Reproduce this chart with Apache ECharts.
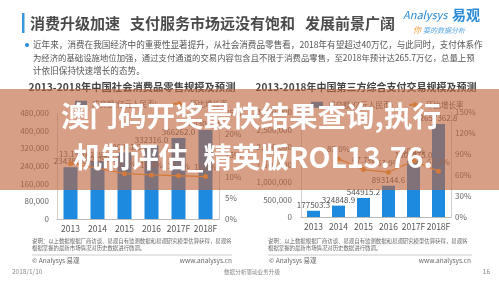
<!DOCTYPE html>
<html><head><meta charset="utf-8">
<script src="https://cdn.jsdelivr.net/npm/echarts@6/dist/echarts.min.js"></script>
<style>html,body{margin:0;padding:0;background:#fff}#c{width:499px;height:281px}</style>
</head><body><div id="c"></div>
<script>
const years = ['2013','2014','2015','2016','2017F','2018F'];
const retailValues = [234380.0, 262394.0, 300931.0, 332316.0, 366262.0, 403000.0];
const retailGrowth = [13.1, 12.0, 10.7, 10.4, 10.2, 10.0];
const payValues = [177503.3, 324848.9, 544915.2, 893144.6, 1608575.0, 2657362.8];
const payGrowth = ['-', 83.0, 67.7, 63.9, 80.1, 65.2];
const retailTicks = {max: 480000, interval: 80000};
const retailRateTicks = {max: 25, interval: 5};
const payTicks = {max: 3000000, interval: 500000};
const payRateTicks = {max: 150, interval: 30};

const FONT = '"Noto Sans CJK SC", sans-serif';
const BLUE = '#1d8ae0';
const ORANGE = '#f2a040';
const chart = echarts.init(document.getElementById('c'), null, {renderer: 'canvas'});

function valAxis(grid, ticks, pct, pos, margin) {
  return {
    type: 'value', gridIndex: grid, position: pos, min: 0, max: ticks.max, interval: ticks.interval,
    axisLine: {show: true, lineStyle: {color: '#cfcfcf'}}, axisTick: {show: false},
    splitLine: {show: false},
    axisLabel: {fontSize: 8, color: '#666', fontFamily: FONT, margin: margin,
      formatter: pct ? '{value}%' : '{value}'}
  };
}
function catAxis(grid) {
  return {
    type: 'category', gridIndex: grid, data: years,
    axisLine: {lineStyle: {color: '#bbb'}}, axisTick: {show: false},
    axisLabel: {fontSize: 8.5, color: '#555', fontFamily: FONT, margin: 6, interval: 0}
  };
}
const barLabel = {show: true, position: 'top', fontSize: 8, color: '#555', fontFamily: FONT, distance: 2,
  formatter: p => Number(p.value).toFixed(1)};
const lineLabel = {show: true, position: 'top', fontSize: 8, color: '#666', fontFamily: FONT, distance: 3,
  formatter: p => Number(p.value).toFixed(1) + '%'};

function txt(text, x, y, size, color, opts) {
  opts = opts || {};
  return {type: 'text', z: opts.z || 50, style: {text: text, x: x, y: y,
    font: (opts.weight || 'normal') + ' ' + (opts.italic ? 'italic ' : '') + size + 'px ' + FONT,
    fill: color, textAlign: opts.align || 'left', textVerticalAlign: 'middle',
    shadowBlur: opts.shadow ? 3 : 0, shadowColor: opts.shadow ? 'rgba(0,0,0,0.2)' : 'transparent'}};
}

const option = {
  animation: false,
  grid: [
    {left: 57, top: 113, width: 162, height: 106},
    {left: 301, top: 112, width: 150, height: 105}
  ],
  legend: [
    {left: 70, top: 95, itemWidth: 12, itemHeight: 6, itemGap: 15,
      textStyle: {fontSize: 7.5, color: '#666', fontFamily: FONT},
      data: [{name: '成交额(亿元人民币)', icon: 'rect'}, '环比增长率']},
    {left: 306, top: 96, itemWidth: 12, itemHeight: 6, itemGap: 15,
      textStyle: {fontSize: 7.5, color: '#666', fontFamily: FONT},
      data: [{name: '成交额(亿元人民币)', icon: 'rect'}, '环比增长率']}
  ],
  xAxis: [catAxis(0), catAxis(1)],
  yAxis: [
    valAxis(0, retailTicks, false, 'left', 8),
    valAxis(0, retailRateTicks, true, 'right', 6),
    valAxis(1, payTicks, false, 'left', 9),
    valAxis(1, payRateTicks, true, 'right', 4)
  ],
  series: [
    {name: '成交额(亿元人民币)', type: 'bar', xAxisIndex: 0, yAxisIndex: 0, data: retailValues,
      barWidth: 14, itemStyle: {color: BLUE}, label: barLabel},
    {name: '环比增长率', type: 'line', xAxisIndex: 0, yAxisIndex: 1, data: retailGrowth,
      symbol: 'circle', symbolSize: 5, itemStyle: {color: ORANGE}, lineStyle: {color: ORANGE, width: 1.3},
      label: lineLabel},
    {name: '成交额(亿元人民币)', type: 'bar', xAxisIndex: 1, yAxisIndex: 2, data: payValues,
      barWidth: 13, itemStyle: {color: BLUE}, label: barLabel},
    {name: '环比增长率', type: 'line', xAxisIndex: 1, yAxisIndex: 3, data: payGrowth,
      symbol: 'circle', symbolSize: 5, itemStyle: {color: ORANGE}, lineStyle: {color: ORANGE, width: 1.3},
      label: lineLabel}
  ],
  graphic: [
    {type: 'rect', shape: {x: 22, y: 13, width: 2.5, height: 20}, style: {fill: '#3a96d8'}},
    txt('消费升级加速', 30, 23, 15, '#4a4a4a', {weight: 'bold'}),
    txt('支付服务市场远没有饱和', 130, 23, 15, '#4a4a4a', {weight: 'bold'}),
    txt('发展前景广阔', 305, 23, 15, '#4a4a4a', {weight: 'bold'}),
    txt('Analysys', 403, 15, 11, '#2a8ad6', {italic: true}),
    txt('易观', 452, 15, 14, '#2a8ad6', {weight: 'bold'}),
    txt('你', 413, 30, 8, '#f0a040', {italic: true}),
    txt('要的数据分析', 423, 30, 7, '#5aa6e0', {italic: true}),
    {type: 'circle', shape: {cx: 27, cy: 45, r: 2}, style: {fill: '#2a8ad6'}},
    txt('近年来，消费在我国经济中的重要性显著提升，从社会消费品零售看，2018年有望超过40万亿，与此同时，支付体系作', 33, 45, 8.6, '#555'),
    txt('为经济的基础设施地位加强，通过支付通道的交易内容包含且不限于消费品零售，至2018年预计达265.7万亿，总量上预', 33, 58, 8.4, '#555'),
    txt('计依旧保持快速增长的态势。', 33, 71, 8.6, '#555'),
    txt('2013-2018年中国社会消费品零售规模及预测', 132, 87, 10.3, '#444', {weight: 'bold', align: 'center'}),
    txt('2013-2018年中国第三方综合支付交易规模及预测', 366, 87, 10, '#444', {weight: 'bold', align: 'center'}),
    txt('说明：以上数据根据厂商访谈、易观自有监测数据和易观研究模型估算获得，易观将', 32, 241, 5.4, '#666'),
    txt('根据掌握的最新市场情况对历史数据进行微调。', 32, 247.5, 5.4, '#666'),
    txt('说明：以上数据根据厂商访谈、易观自有监测数据和易观研究模型估算获得，易观将', 268, 241, 5.4, '#666'),
    txt('根据掌握的最新市场情况对历史数据进行微调。', 268, 247.5, 5.4, '#666'),
    {type: 'line', shape: {x1: 32, y1: 255, x2: 232, y2: 255}, style: {stroke: '#ccc', lineWidth: 1}},
    {type: 'line', shape: {x1: 268, y1: 255, x2: 472, y2: 255}, style: {stroke: '#ccc', lineWidth: 1}},
    txt('© Analysys 易观', 32, 261, 6.5, '#666'),
    txt('www.analysys.cn', 232, 261, 6.5, '#666', {align: 'right'}),
    txt('© Analysys 易观', 269, 261, 6.5, '#666'),
    txt('www.analysys.cn', 471, 261, 6.5, '#666', {align: 'right'}),
    txt('2018/1/10', 12, 272, 6.5, '#888'),
    txt('数据分析驱动业务升级', 252, 272, 5.6, '#888', {align: 'center'}),
    txt('16', 490, 272, 6.5, '#888', {align: 'right'}),
    {type: 'rect', z: 100, shape: {x: 0, y: 89, width: 499, height: 101}, style: {fill: 'rgba(190,100,60,0.62)'}},
    txt('澳门码开奖最快结果查询,执行', 251, 116, 28.5, '#ffffff', {weight: 'bold', align: 'center', z: 101, shadow: true}),
    txt('机制评估_精英版ROL13.76.', 253, 157, 28.5, '#ffffff', {weight: 'bold', align: 'center', z: 101, shadow: true})
  ]
};
chart.setOption(option);
</script></body></html>
